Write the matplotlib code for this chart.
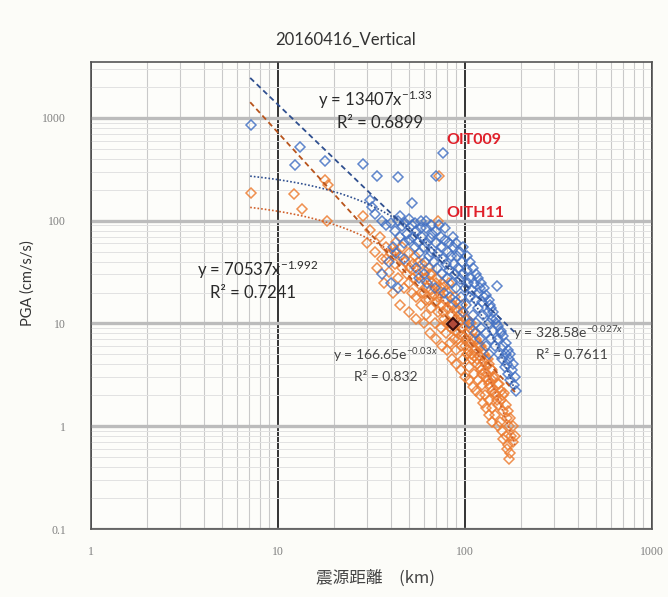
"""
20160416_Vertical — PGA vs hypocentral distance (log-log scatter with trend lines)
"""
import numpy as np
import matplotlib
matplotlib.use('Agg')
import matplotlib.pyplot as plt
from matplotlib.ticker import LogLocator, FuncFormatter, NullFormatter

plt.rcParams['font.family'] = ['Lato', 'DejaVu Sans']
plt.rcParams['mathtext.fontset'] = 'custom'
plt.rcParams['mathtext.rm'] = 'Lato'
plt.rcParams['mathtext.it'] = 'Lato:italic'

# ---- data ----
# blue series: distance (km), PGA (cm/s/s)
blue_x = [7.2, 13.1, 12.3, 17.8, 28.5, 34, 44, 70, 76, 52, 31, 32, 33, 36, 38,
          40, 42, 44, 45, 46, 47, 48, 49, 50, 41, 43, 39, 47,
          52, 53, 54, 55, 56, 57, 58, 59, 60, 61, 62, 63, 64, 65, 55, 60,
          66, 67, 68, 70, 71, 72, 73, 74, 75, 76, 78, 79, 80, 81, 82, 84, 85,
          86, 87, 88, 90, 91, 92, 94, 95, 96, 98, 100, 101, 103, 104, 106, 108, 110, 109,
          112, 114, 115, 117, 118, 120, 122, 124, 125, 127, 130, 132, 134, 136, 138, 140,
          142, 145, 147, 150, 152, 155, 158, 160, 163, 165, 168, 170, 172, 175, 178, 182, 185,
          148,
          45, 50, 54, 58, 62, 66, 70, 74, 78, 82, 86, 90, 94, 98, 102, 106, 110, 114,
          118, 122, 126, 130, 134, 138, 142, 146, 150, 155, 160, 165, 170, 175, 180,
          36, 40, 44, 57, 63, 69, 77, 83, 89, 97, 105, 113, 121, 129, 135, 188]
blue_y = [860, 520, 350, 380, 360, 275, 265, 270, 460, 150, 160, 135, 115, 100, 90,
          95, 80, 100, 70, 88, 60, 95, 75, 65, 55, 48, 40, 42,
          90, 70, 55, 80, 62, 48, 100, 70, 55, 40, 85, 60, 45, 68, 35, 30,
          50, 75, 40, 60, 35, 48, 90, 55, 30, 42, 65, 38, 28, 50, 33, 45, 25,
          55, 38, 30, 22, 45, 35, 27, 18, 40, 30, 22, 15, 33, 25, 18, 28, 12, 21,
          25, 17, 10, 20, 14, 22, 9, 16, 12, 18, 8, 13, 10, 15, 7, 11,
          8.5, 6, 10, 7, 5, 8, 4.5, 6, 3.8, 5, 4, 3.2, 4.5, 2.8, 3.5, 2.5, 3.0,
          23,
          110, 105, 95, 85, 100, 90, 80, 70, 85, 60, 70, 60, 50, 55, 45, 40, 35, 30,
          28, 25, 22, 19, 17, 14, 13, 11, 9.5, 8.5, 7.5, 6.5, 5.5, 5, 4,
          30, 25, 22, 28, 25, 22, 20, 18, 16, 13, 10, 8, 7, 6, 5, 2.2]

# orange series
orange_x = [7.2, 12.2, 17.8, 18.5, 13.5, 18.3, 28.5, 31, 72, 73,
            30, 33, 35, 36, 38, 39, 40, 42, 43, 44, 45, 46, 47, 48, 49, 50, 37, 41,
            51, 52, 53, 54, 55, 56, 57, 58, 59, 60, 61, 62, 63, 64, 65, 66, 67, 68, 69, 70,
            71, 72, 73, 74, 75, 76, 77, 78, 79, 80, 81, 82, 83, 84, 85, 87, 88, 89, 90,
            91, 92, 93, 95, 96, 97, 98, 100, 101, 102, 104, 105, 106, 108, 109, 110, 112,
            113, 115, 116, 118, 119, 120,
            122, 124, 125, 127, 128, 130, 132, 134, 135, 137, 139, 140, 142, 145, 147, 150,
            152, 154, 156, 158, 160, 162, 165, 167, 170, 172, 175, 177, 180, 172,
            34, 38, 42, 46, 50, 53, 56, 60, 64, 67, 70, 74, 78, 82, 86, 90, 94, 98, 102,
            106, 110, 114, 118, 122, 126, 130, 135, 140, 145, 150, 155, 160, 165, 170, 175,
            180, 185,
            45, 50, 55, 60, 65, 70, 75, 80, 85, 90, 95, 100, 105, 110, 115, 120, 125, 130,
            135, 140, 150, 160, 168,
            58, 62, 66, 72, 76, 80, 84, 88, 92, 96, 100, 104, 108, 112, 116, 120, 124, 128,
            132, 136, 140, 144, 148]
orange_y = [185, 180, 250, 220, 130, 100, 110, 82, 100, 270,
            60, 50, 70, 42, 55, 32, 48, 38, 62, 28, 45, 35, 22, 40, 30, 25, 25, 20,
            35, 20, 28, 45, 18, 30, 24, 15, 38, 20, 27, 12, 22, 17, 30, 14, 25, 19, 10, 16,
            28, 13, 20, 9, 15, 24, 11, 17, 8, 14, 20, 10, 6.5, 15, 12, 7, 18, 11, 5.5,
            13, 8, 10, 6, 15, 9, 4.5, 11, 7, 5, 8.5, 3.8, 6.5, 10, 4.5, 7, 3.2,
            5.5, 8, 4, 2.8, 6, 4.8,
            3.5, 2.5, 5.5, 4.2, 2, 3, 4.5, 1.8, 2.6, 3.6, 1.5, 2.2, 3, 1.3, 2, 1.6,
            2.6, 1.1, 1.8, 0.9, 1.4, 2.1, 0.8, 1.2, 0.65, 1.0, 0.55, 0.8, 0.7, 0.48,
            35, 42, 50, 55, 48, 38, 40, 33, 35, 30, 25, 22, 23, 25, 15, 14, 12, 13, 11,
            9, 8.5, 7, 6.5, 6, 5, 4.5, 4, 3.5, 3, 2.6, 2.2, 2, 1.6, 1.4, 1.2,
            1.0, 0.8,
            15, 13, 11, 10, 8, 7, 6, 5.5, 4.5, 4, 3.5, 3, 2.8, 2.4, 2.2, 2, 1.7, 1.5,
            1.3, 1.1, 1.0, 0.75, 0.6,
            20, 17, 21, 18, 13, 10, 9, 8.5, 7, 7.5, 6, 5.5, 5, 4.8, 4.5, 3.8, 3.2, 3.4,
            2.8, 2.4, 2.8, 2.1, 1.8]

# highlighted station (dark marker)
mark_x = [86]
mark_y = [9.8]

# trend lines: power y = a*x^b, exponential y = a*exp(b*x)
fit_x_range = (7.1, 185)
blue_pow = (75700, -1.75)
orange_pow = (70537, -1.992)
blue_exp = (328.58, -0.027)
orange_exp = (166.65, -0.03)

BLUE = '#4472C4'
ORANGE = '#ED7D31'

fig = plt.figure(figsize=(6.68, 5.97), dpi=100, facecolor='#fcfcf8')
ax = fig.add_axes([91 / 668, 1 - 529 / 597, 561 / 668, 467 / 597])
ax.set_facecolor('#fdfdfa')
ax.set_xscale('log')
ax.set_yscale('log')
ax.set_xlim(1, 1000)
ax.set_ylim(0.1, 3500)

# grid (Excel-like)
ax.xaxis.set_minor_locator(LogLocator(base=10, subs=np.arange(2, 10), numticks=20))
ax.yaxis.set_minor_locator(LogLocator(base=10, subs=np.arange(2, 10), numticks=20))
ax.xaxis.set_minor_formatter(NullFormatter())
ax.yaxis.set_minor_formatter(NullFormatter())
ax.xaxis.grid(True, which='major', color='#111111', lw=1.2)
ax.xaxis.grid(True, which='minor', color='#c9c9c9', lw=0.8)
ax.yaxis.grid(True, which='major', color='#bcbcbc', lw=2.4)
ax.yaxis.grid(True, which='minor', color='#e2e2e2', lw=0.7)
ax.set_axisbelow(True)
for s in ax.spines.values():
    s.set_color('#555555')
    s.set_linewidth(1.2)

fmt = FuncFormatter(lambda v, p: '%g' % v)
ax.xaxis.set_major_formatter(fmt)
ax.yaxis.set_major_formatter(fmt)
ax.tick_params(which='both', length=0)
ax.tick_params(axis='x', pad=12)
ax.tick_params(axis='y', pad=18)
for lab in ax.get_xticklabels() + ax.get_yticklabels():
    lab.set_fontfamily('Liberation Serif')
    lab.set_fontsize(8.5)
    lab.set_color('#808080')

# scatter
ax.plot(orange_x, orange_y, 'D', ms=5, mfc='none', mec=ORANGE, mew=1.1, alpha=0.85, zorder=3)
ax.plot(blue_x, blue_y, 'D', ms=5, mfc='none', mec=BLUE, mew=1.1, alpha=0.85, zorder=4)
ax.plot(mark_x, mark_y, 'D', ms=6, mfc='#b04a3a', mec='#3a0d0d', mew=1.5, zorder=6)

# trend lines
xf = np.logspace(np.log10(fit_x_range[0]), np.log10(fit_x_range[1]), 200)
ax.plot(xf, blue_pow[0] * xf ** blue_pow[1], ls=(0, (3, 2)), color='#2f4f8f', lw=1.3, zorder=5)
ax.plot(xf, orange_pow[0] * xf ** orange_pow[1], ls=(0, (3, 2)), color='#b8541c', lw=1.3, zorder=5)
ax.plot(xf, blue_exp[0] * np.exp(blue_exp[1] * xf), ls=(0, (1, 1.2)), color='#2f4f8f', lw=1.2, zorder=5)
ax.plot(xf, orange_exp[0] * np.exp(orange_exp[1] * xf), ls=(0, (1, 1.2)), color='#d0602a', lw=1.2, zorder=5)

# annotations (axes-fraction positions)
def atext(px, py, s, **kw):
    ax.text((px - 91) / 561, (529 - py) / 467, s, transform=ax.transAxes,
            va='center', zorder=7, **kw)

tc = '#2a2a2a'
atext(375, 100, r'y = 13407x$^{-1.33}$', ha='center', fontsize=12, color=tc)
atext(380, 123, 'R² = 0.6899', ha='center', fontsize=12, color=tc)
atext(258, 270, r'y = 70537x$^{-1.992}$', ha='center', fontsize=12, color=tc)
atext(253, 293, 'R² = 0.7241', ha='center', fontsize=12, color=tc)
atext(385, 355, r'y = 166.65e$^{-0.03x}$', ha='center', fontsize=10, color='#444444')
atext(386, 377, 'R² = 0.832', ha='center', fontsize=10, color='#444444')
atext(568, 333, r'y = 328.58e$^{-0.027x}$', ha='center', fontsize=10, color='#444444')
atext(572, 355, 'R² = 0.7611', ha='center', fontsize=10, color='#444444')
atext(446, 140, 'OIT009', ha='left', fontsize=11.5, fontweight='bold', color='#e0202a')
atext(446, 213, 'OITH11', ha='left', fontsize=11.5, fontweight='bold', color='#e0202a')

fig.text(346 / 668, 1 - 40 / 597, '20160416_Vertical', ha='center', va='center',
         fontsize=12, color='#333333')
fig.text(28 / 668, 1 - 283 / 597, 'PGA (cm/s/s)', rotation=90, ha='center', va='center',
         fontsize=10.5, color='#333333')
fig.text(375 / 668, 1 - 578 / 597, '震源距離　(km)', ha='center', va='center',
         fontsize=12, color='#444444', family=['Noto Sans CJK JP', 'DejaVu Sans'])

fig.savefig('out.png', dpi=100, facecolor=fig.get_facecolor())
